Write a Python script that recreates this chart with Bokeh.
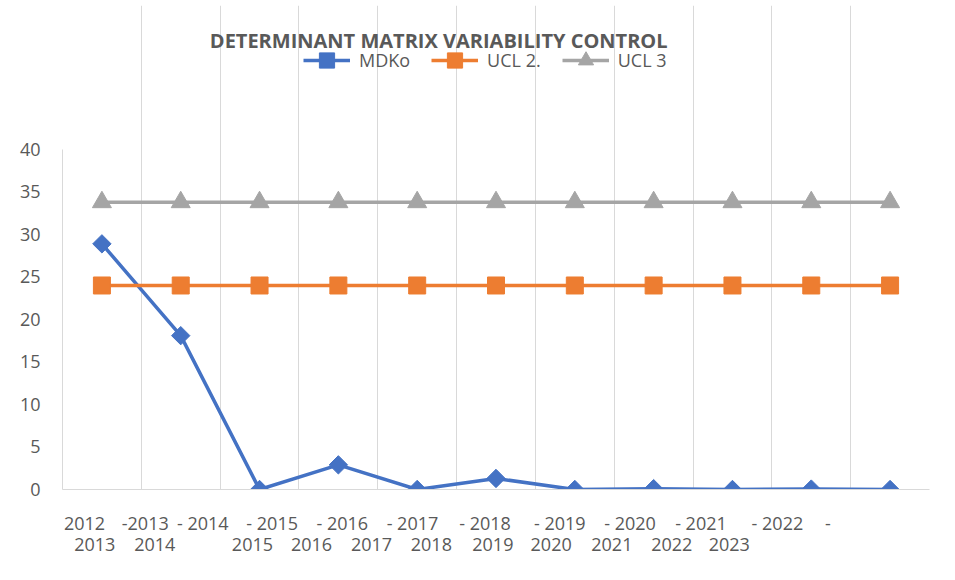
import math
from bokeh.plotting import figure
from bokeh.models import (Range1d, FixedTicker, LinearAxis, Legend, LegendItem, Label)
from bokeh.embed import file_html
from bokeh.resources import INLINE

# ---- data ----
periods = ["2012-2013", "2013-2014", "2014-2015", "2015-2016", "2016-2017", "2017-2018",
           "2018-2019", "2019-2020", "2020-2021", "2021-2022", "2022-2023"]
mdko = [28.9, 18.1, 0.0, 2.9, 0.0, 1.3, 0.0, 0.1, 0.0, 0.05, 0.0]
ucl2 = [24.0, 24.0, 24.0, 24.0, 24.0, 24.0, 24.0, 24.0, 24.0, 24.0, 24.0]
ucl3 = [33.8, 33.8, 33.8, 33.8, 33.8, 33.8, 33.8, 33.8, 33.8, 33.8, 33.8]
y_ticks = [0, 5, 10, 15, 20, 25, 30, 35, 40]
title_text = "DETERMINANT  MATRIX  VARIABILITY  CONTROL"

# tick label text as rendered (two wrapped rows)
row1_labels = ["2012", "-2013", "- 2014", "- 2015", "- 2016", "- 2017", "-  2018",
               "- 2019", "- 2020", "-  2021", "-  2022", "-"]
row2_labels = ["2013", "2014", "2015", "2016", "2017", "2018", "2019", "2020",
               "2021", "2022", "2023"]

# ---- layout (label anchor positions along the category axis, room above the plot) ----
row1_pos = [0.28, 1.05, 1.78, 2.66, 3.55, 4.44, 5.39, 6.31, 7.20, 8.13, 9.10, 9.71]
row2_pos = [0.41, 1.17, 2.41, 3.16, 3.92, 4.68, 5.46, 6.20, 6.97, 7.73, 8.46]
Y_AXIS_MAX = 40
Y_VIEW_TOP = 56.94

TEXT = "#595959"
GRID = "#d9d9d9"
FONT = "Open Sans"

xs = [i + 0.5 for i in range(len(periods))]

p = figure(frame_width=867, frame_height=484, output_backend="svg", toolbar_location=None,
           x_range=Range1d(0, len(periods)), y_range=Range1d(0, Y_VIEW_TOP),
           min_border_left=62, min_border_right=10)
p.title_location = None
p.outline_line_color = None

# y axis
p.yaxis.ticker = FixedTicker(ticks=y_ticks)
p.yaxis.bounds = (0, Y_AXIS_MAX)
p.yaxis.axis_line_color = GRID
p.yaxis.major_tick_line_color = None
p.yaxis.major_tick_out = 0
p.yaxis.minor_tick_line_color = None
p.yaxis.major_label_text_font = FONT
p.yaxis.major_label_text_font_size = "18px"
p.yaxis.major_label_text_color = TEXT
p.yaxis.major_label_standoff = 22

# grids: vertical category separators only
p.ygrid.grid_line_color = None
p.xgrid.ticker = FixedTicker(ticks=[i + 1 for i in range(len(periods))])
p.xgrid.bounds = (0, Y_AXIS_MAX)
p.xgrid.grid_line_color = GRID
p.xgrid.grid_line_width = 1

# x axes (two wrapped label rows)
ax1 = p.xaxis[0]
ax1.ticker = FixedTicker(ticks=row1_pos)
ax1.major_label_overrides = {k: v for k, v in zip(row1_pos, row1_labels)}
ax2 = LinearAxis(ticker=FixedTicker(ticks=row2_pos),
                 major_label_overrides={k: v for k, v in zip(row2_pos, row2_labels)})
p.add_layout(ax2, "below")
for ax in (ax1, ax2):
    ax.major_tick_line_color = None
    ax.major_tick_out = 0
    ax.minor_tick_line_color = None
    ax.major_label_text_font = FONT
    ax.major_label_text_font_size = "18px"
    ax.major_label_text_color = TEXT
ax1.axis_line_color = GRID
ax1.major_label_standoff = 21
ax2.axis_line_color = None
ax2.major_label_standoff = 0

# series
series = [
    ("MDKo", mdko, "#4472C4", "square", 13, math.pi / 4),
    ("UCL 2.", ucl2, "#ED7D31", "square", 17, 0.0),
    ("UCL 3", ucl3, "#A5A5A5", "triangle", 19, 0.0),
]
items = []
for name, vals, col, mk, sz, ang in series:
    ln = p.line(xs, vals, line_color=col, line_width=3.5)
    sc = p.scatter(xs, vals, marker=mk, size=sz, angle=ang,
                   fill_color=col, line_color=col)
    items.append(LegendItem(label=name, renderers=[ln, sc]))

legend = Legend(items=items, orientation="horizontal", location=(241, 410),
                glyph_width=47, glyph_height=38, label_standoff=9, spacing=21,
                label_text_font=FONT, label_text_font_size="18px",
                label_text_color=TEXT, padding=0, margin=0,
                border_line_color=None, background_fill_color=None)
p.add_layout(legend, "center")

# chart title
title = Label(x=384, y=449, x_units="screen", y_units="screen", text=title_text,
              text_font=FONT, text_font_size="20px", text_font_style="bold",
              text_color=TEXT, text_align="center", text_baseline="middle")
p.add_layout(title)

open("out.html", "w").write(file_html(p, INLINE))
